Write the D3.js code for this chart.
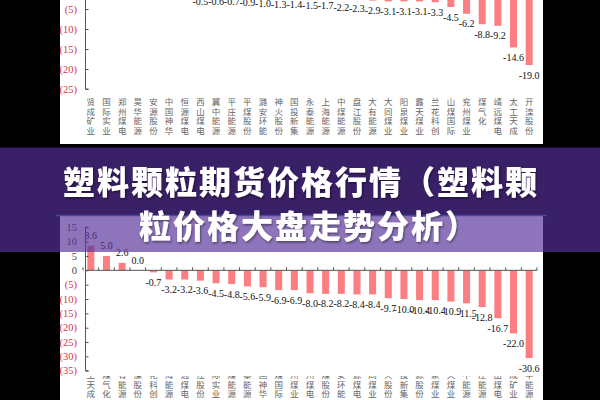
<!DOCTYPE html>
<html>
<head>
<meta charset="utf-8">
<script src="https://cdn.jsdelivr.net/npm/d3@7"></script>
<style>
  body { margin: 0; background: #000; }
  svg { display: block; }
</style>
</head>
<body>
<svg id="chart" width="600" height="400"></svg>
<script>
// top chart (only lower part visible)
const catsTop = ["贤成矿业", "国际实业", "郑州煤电", "昊华能源", "安源股份", "中国神华", "恒源煤电",
  "西山煤电", "冀中能源", "平庄能源", "平煤股份", "潞安环能", "神火股份", "国投新集", "永泰能源",
  "上海能源", "中煤能源", "盘江股份", "大有能源", "大同煤业", "阳泉煤业", "露天煤业", "兰花科创",
  "山煤国际", "兖州煤业", "煤气化", "靖远煤电", "太工天成", "开滦股份"];
const valsTop = [12.0, 8.5, 5.6, 3.9, 2.0, 1.2, 0.3,
  -0.5, -0.6, -0.7, -0.9, -1.0, -1.3, -1.4, -1.5,
  -1.7, -2.2, -2.3, -2.9, -3.1, -3.1, -3.1, -3.3,
  -4.5, -6.2, -8.8, -9.2, -14.6, -19.0];
const ticksTop = [-25, -20, -15, -10, -5, 0, 5, 10, 15];

// bottom chart
const catsBot = ["太工天成", "煤气化", "大有能源", "开滦股份", "兰花科创", "上海能源", "靖远煤电",
  "盘江股份", "国际实业", "中煤能源", "永泰能源", "中国神华", "山煤国际", "兖州煤业", "郑州煤电",
  "平煤股份", "潞安环能", "恒源煤电", "大同煤业", "神火股份", "国投新集", "安源股份", "阳泉煤业",
  "露天煤业", "冀中能源", "平庄能源", "西山煤电", "贤成矿业", "昊华能源"];
const valsBot = [8.6, 5.0, 2.6, 0.0, -0.7, -3.2, -3.2,
  -3.6, -4.5, -4.8, -5.6, -5.9, -6.9, -6.9, -8.0,
  -8.2, -8.2, -8.4, -8.4, -9.7, -10.0, -10.4, -10.4,
  -10.9, -11.5, -12.8, -16.7, -22.0, -30.6];
const ticksBot = [-35, -30, -25, -20, -15, -10, -5, 0, 5, 10, 15];

const titleLines = ["塑料颗粒期货价格行情（塑料颗", "粒价格大盘走势分析）"];

const barColor = "#fb7f82";
const axisColor = "#555";
const negColor = "#d7334c";
const serif = "'Liberation Serif', 'DejaVu Serif', serif";
const cjk = "'Noto Sans CJK SC', sans-serif";

const svg = d3.select("#chart");

svg.append("rect").attr("width", 600).attr("height", 400).attr("fill", "#000");

const defs = svg.append("defs");
defs.append("clipPath").attr("id", "clipTop")
  .append("rect").attr("x", 60).attr("y", 0).attr("width", 483).attr("height", 144);
defs.append("clipPath").attr("id", "clipBot")
  .append("rect").attr("x", 60).attr("y", 216).attr("width", 483).attr("height", 184);
defs.append("clipPath").attr("id", "clipBotLabels")
  .append("rect").attr("x", 60).attr("y", 376).attr("width", 483).attr("height", 30);
const shadow = defs.append("filter").attr("id", "shadow")
  .attr("x", "-10%").attr("y", "-30%").attr("width", "120%").attr("height", "160%");
shadow.append("feDropShadow").attr("dx", 1).attr("dy", 1.5)
  .attr("stdDeviation", 1.2).attr("flood-color", "#000").attr("flood-opacity", 0.45);

const tickText = v => v < 0 ? "(" + (-v) + ")" : String(v);
const valText = v => v.toFixed(1);

function drawPanel(opt) {
  const g = svg.append("g").attr("clip-path", "url(#" + opt.clip + ")");

  g.append("rect")
    .attr("x", 60).attr("y", opt.top)
    .attr("width", 483).attr("height", opt.height)
    .attr("fill", "#fff");

  const x = d3.scaleBand().domain(opt.cats).range([83, 537]).paddingInner(0.55).paddingOuter(0.275);
  const y = d3.scaleLinear().domain([opt.ticks[0], opt.ticks[opt.ticks.length - 1]]).range(opt.yRange);
  const rows = opt.cats.map((c, i) => ({ c, v: opt.vals[i] }));

  // bars
  g.selectAll(".bar")
    .data(rows)
    .enter()
    .append("rect")
    .attr("class", "bar")
    .attr("fill", barColor)
    .attr("x", d => x(d.c))
    .attr("width", x.bandwidth())
    .attr("y", d => y(Math.max(0, d.v)))
    .attr("height", d => Math.abs(y(d.v) - y(0)));

  // value labels
  g.selectAll(".val")
    .data(rows)
    .enter()
    .append("text")
    .attr("class", "val")
    .attr("x", d => x(d.c) + x.bandwidth() / 2)
    .attr("y", d => d.v < 0 ? y(d.v) + 10 : y(d.v) - 10)
    .attr("dy", "0.35em")
    .attr("text-anchor", "middle")
    .attr("font-family", serif)
    .attr("font-size", 10)
    .attr("fill", "#111")
    .text(d => valText(d.v));

  // y axis
  const yAxis = g.append("g")
    .attr("transform", "translate(85.5,0)")
    .call(d3.axisRight(y).tickValues(opt.ticks).tickSize(3).tickFormat(""));
  yAxis.selectAll("path, line").attr("stroke", axisColor);
  yAxis.select(".domain").attr("d", "M3," + y.range()[0] + "H0V" + y.range()[1] + "H3");

  g.selectAll(".ytick")
    .data(opt.ticks)
    .enter()
    .append("text")
    .attr("class", "ytick")
    .attr("x", 77)
    .attr("y", d => y(d))
    .attr("dy", "0.35em")
    .attr("text-anchor", "end")
    .attr("font-family", serif)
    .attr("font-size", 10.5)
    .attr("fill", d => d < 0 ? negColor : "#444")
    .text(tickText);

  // zero line with ticks at band edges
  const edges = opt.cats.map(c => x(c) - x.step() * x.paddingInner() / 2).concat([537]);
  g.append("line")
    .attr("x1", 85.5).attr("x2", 537)
    .attr("y1", y(0)).attr("y2", y(0))
    .attr("stroke", axisColor);
  g.selectAll(".xtick")
    .data(edges)
    .enter()
    .append("line")
    .attr("class", "xtick")
    .attr("x1", d => d).attr("x2", d => d)
    .attr("y1", y(0)).attr("y2", y(0) - 3)
    .attr("stroke", axisColor);

  // category labels, one character under the other
  const lg = svg.append("g");
  if (opt.labelClip) lg.attr("clip-path", "url(#" + opt.labelClip + ")");
  const lab = lg.selectAll(".cat")
    .data(rows)
    .enter()
    .append("text")
    .attr("class", "cat")
    .attr("font-family", cjk)
    .attr("font-size", 8.5)
    .attr("fill", "#666")
    .attr("text-anchor", "middle");
  lab.each(function (d) {
    const chars = Array.from(d.c);
    const cx = x(d.c) + x.bandwidth() / 2;
    const y0 = opt.labelEnd ? opt.labelEnd - chars.length * 9.6 : opt.labelTop;
    d3.select(this).selectAll("tspan")
      .data(chars)
      .enter()
      .append("tspan")
      .attr("x", cx)
      .attr("y", (ch, i) => y0 + i * 9.6 + 8)
      .text(ch => ch);
  });
}

drawPanel({ clip: "clipTop", top: 0, height: 144, cats: catsTop, vals: valsTop,
  ticks: ticksTop, yRange: [89, -71], labelTop: 97 });
drawPanel({ clip: "clipBot", top: 216, height: 184, cats: catsBot, vals: valsBot,
  ticks: ticksBot, yRange: [370.7, 227.3], labelEnd: 399, labelClip: "clipBotLabels" });

// title banner
svg.append("rect")
  .attr("x", 0).attr("y", 147.5)
  .attr("width", 600).attr("height", 104.5)
  .attr("fill", "rgb(86,48,154)")
  .attr("fill-opacity", 0.67);

svg.append("line")
  .attr("x1", 56).attr("x2", 547)
  .attr("y1", 215.5).attr("y2", 215.5)
  .attr("stroke", "#4a4896")
  .attr("stroke-width", 1.5);

svg.selectAll(".title")
  .data(titleLines)
  .enter()
  .append("text")
  .attr("class", "title")
  .attr("x", (d, i) => i ? 309 : 301)
  .attr("y", (d, i) => 180 + i * 44)
  .attr("dominant-baseline", "central")
  .attr("text-anchor", "middle")
  .attr("font-family", cjk)
  .attr("font-weight", 900)
  .attr("font-size", 32)
  .attr("letter-spacing", 2)
  .attr("fill", "#fff")
  .attr("filter", "url(#shadow)")
  .text(d => d);
</script>
</body>
</html>
